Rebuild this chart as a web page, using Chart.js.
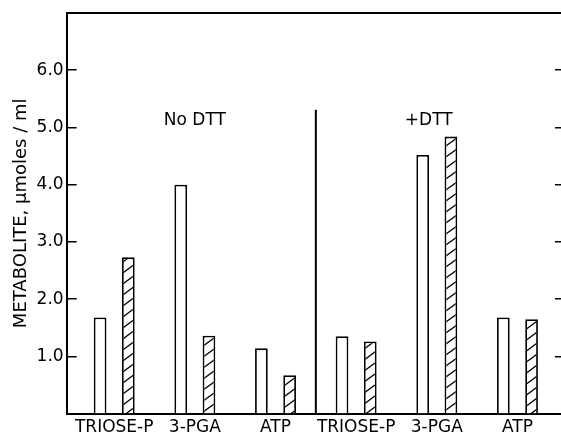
<!DOCTYPE html>
<html>
<head>
<meta charset="utf-8">
<script src="https://cdn.jsdelivr.net/npm/chart.js@4"></script>
<style>
  body { margin: 0; background: #fff; }
</style>
</head>
<body>
<canvas id="chart" width="561" height="434"></canvas>
<script>
"use strict";

// metabolite levels in umoles/ml
var categories = ["TRIOSE-P", "3-PGA", "ATP", "TRIOSE-P", "3-PGA", "ATP"];
var openValues = [1.68, 4.0, 1.14, 1.35, 4.52, 1.68];
var hatchedValues = [2.73, 1.36, 0.67, 1.26, 4.84, 1.65];
var yTicks = [1, 2, 3, 4, 5, 6];
var groupNotes = ["No DTT", "+DTT"];

var FONT = "'DejaVu Sans', sans-serif";
var ctx = document.getElementById("chart");

// diagonal "/" hatching for the second series
function makeHatch() {
  var tile = document.createElement("canvas");
  tile.width = 15;
  tile.height = 11;
  var t = tile.getContext("2d");
  t.fillStyle = "#fff";
  t.fillRect(0, 0, 15, 11);
  t.strokeStyle = "#000";
  t.lineWidth = 1.4;
  t.beginPath();
  for (var k = -1; k <= 1; k++) {
    t.moveTo(-1, 11 + 11 / 15 + k * 11);
    t.lineTo(16, -11 / 15 + k * 11);
  }
  t.stroke();
  return t.createPattern(tile, "repeat");
}

function toPoints(values) {
  return values.map(function (v, i) {
    return { x: i, y: v };
  });
}

function fixedTicks(list) {
  return function (scale) {
    scale.ticks = list.map(function (v) {
      return { value: v };
    });
  };
}

// no extra room for half-labels at the axis ends
function noEndPadding(scale) {
  scale.paddingTop = 0;
  scale.paddingBottom = 0;
  scale.paddingLeft = 0;
  scale.paddingRight = 0;
}

var dataOpen = {
  label: "open",
  data: toPoints(openValues),
  backgroundColor: "#fff",
  borderColor: "#000",
  borderWidth: 1.8,
};

var dataHatched = {
  label: "hatched",
  data: toPoints(hatchedValues),
  backgroundColor: makeHatch(),
  borderColor: "#000",
  borderWidth: 1.8,
};

// divider between the two halves and the "No DTT" / "+DTT" notes
var notesPlugin = {
  id: "notes",
  afterDatasetsDraw: function (chart) {
    var c = chart.ctx;
    var xs = chart.scales.x;
    var ys = chart.scales.y;
    var xd = xs.getPixelForValue(2.5);
    c.save();
    c.strokeStyle = "#000";
    c.lineWidth = 2;
    c.beginPath();
    c.moveTo(xd, ys.getPixelForValue(0));
    c.lineTo(xd, ys.getPixelForValue(5.31));
    c.stroke();
    c.fillStyle = "#000";
    c.font = "17px " + FONT;
    c.textAlign = "center";
    c.textBaseline = "middle";
    c.fillText(groupNotes[0], xs.getPixelForValue(1.0), ys.getPixelForValue(5.12));
    c.fillText(groupNotes[1], xs.getPixelForValue(3.9), ys.getPixelForValue(5.12));
    c.restore();
  },
};

var myChart = new Chart(ctx, {
  type: "bar",
  data: { datasets: [dataOpen, dataHatched] },
  plugins: [notesPlugin],
  options: {
    responsive: false,
    animation: false,
    layout: { padding: { left: 0, top: 13, right: 0, bottom: -8 } },
    datasets: {
      bar: { categoryPercentage: 0.7, barPercentage: 0.45 },
    },
    plugins: {
      legend: { display: false },
      tooltip: { enabled: false },
    },
    scales: {
      x: {
        type: "linear",
        offset: false,
        min: -0.59,
        max: 5.54,
        afterBuildTicks: fixedTicks([0, 1, 2, 3, 4, 5]),
        afterFit: noEndPadding,
        grid: { display: false, drawTicks: false },
        border: { color: "#000", width: 2 },
        ticks: {
          callback: function (v) {
            return categories[v];
          },
          color: "#000",
          font: { family: FONT, size: 17 },
          padding: 4,
          maxRotation: 0,
          autoSkip: false,
        },
      },
      xTop: {
        type: "linear",
        position: "top",
        offset: false,
        min: -0.59,
        max: 5.54,
        afterFit: noEndPadding,
        grid: { display: false, drawTicks: false },
        ticks: { display: false },
        border: { color: "#000", width: 2 },
      },
      y: {
        min: 0,
        max: 7,
        afterBuildTicks: fixedTicks(yTicks),
        afterFit: noEndPadding,
        grid: { drawOnChartArea: false, tickLength: -10, color: "#000", lineWidth: 1.5 },
        border: { color: "#000", width: 2 },
        ticks: {
          callback: function (v) {
            return v.toFixed(1);
          },
          color: "#000",
          font: { family: FONT, size: 17 },
          padding: 13,
        },
        title: {
          display: true,
          text: "METABOLITE, \u03bcmoles / ml",
          color: "#000",
          font: { family: FONT, size: 18 },
          padding: { top: 11, bottom: -9 },
        },
      },
      y2: {
        position: "right",
        min: 0,
        max: 7,
        afterBuildTicks: fixedTicks(yTicks),
        afterFit: noEndPadding,
        grid: { drawOnChartArea: false, tickLength: -6, color: "#000", lineWidth: 1.5 },
        border: { display: false },
        ticks: { display: false },
      },
    },
  },
});
</script>
</body>
</html>
